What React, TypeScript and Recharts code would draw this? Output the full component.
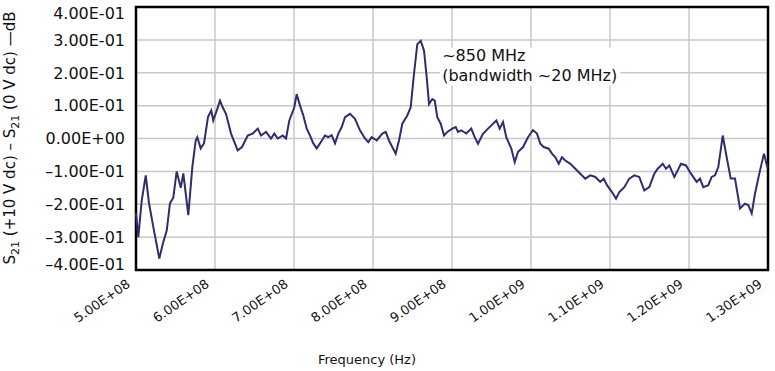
import React from 'react';
import { LineChart, Line, XAxis, YAxis, CartesianGrid, ReferenceArea } from 'recharts';

// Frequency in MHz, value in dB (difference of S21 at +10 V dc and 0 V dc)
const freqMHz = [
  500, 502.9, 507.2, 512.3, 516.5, 521.9, 529.5, 534.2, 538.9, 543, 547.2, 551.5, 556.6, 559.9, 566.2,
  571.3, 575.6, 577.6, 581.9, 586.1, 591.1, 595.3, 597.8, 602.9, 606.3, 609.7, 613.9, 620.3, 628.7,
  634.2, 641.4, 647.7, 654.1, 658.2, 664.6, 670.9, 675.1, 679.4, 685.7, 689.9, 694.1, 700.4, 703.4,
  707.6, 711.8, 716.1, 720.3, 724.4, 728.7, 732.9, 739.2, 743.4, 747.7, 751.9, 756.1, 760.4, 764.6,
  770.9, 777.2, 783.5, 789.9, 794, 798.4, 804.7, 811.8, 816.1, 820.3, 824.4, 828.7, 832.9, 837.1,
  843.4, 847.7, 851.9, 856.1, 860.4, 864.6, 868, 870.9, 875.1, 878.1, 881.4, 885.7, 889.9, 894.1,
  900.4, 904.7, 907.6, 911.8, 918.1, 924.4, 928.7, 932.9, 939.2, 945.6, 949.8, 956.1, 960.4, 964.6,
  968.7, 975.1, 979.4, 983.5, 989.9, 996.2, 1002.5, 1007.6, 1011.8, 1016.1, 1022.4, 1026.6, 1030.8,
  1035.1, 1039.2, 1043.4, 1049.8, 1056.1, 1062.4, 1068.7, 1075.1, 1081.4, 1087.7, 1092, 1096.2,
  1102.5, 1107.6, 1111.8, 1118.1, 1124.4, 1130.8, 1137.1, 1143.4, 1149.7, 1156.1, 1160.4, 1166.7,
  1170.9, 1175.1, 1181.4, 1185.7, 1189.9, 1196.2, 1202.5, 1209.7, 1213.9, 1218.1, 1224.4, 1228.7,
  1232.9, 1237.1, 1242.7, 1247.7, 1252.8, 1258.2, 1264.6, 1270.9, 1275.1, 1279.4, 1283.5, 1289.9,
  1294.9, 1299.1, 1300,
];

const deltaS21 = [
  -0.227, -0.3, -0.19, -0.112, -0.197, -0.269, -0.365, -0.318, -0.28, -0.197, -0.18, -0.1, -0.15, -0.106, -0.233,
  -0.087, -0.006, 0.004, -0.03, -0.015, 0.065, 0.085, 0.055, 0.09, 0.115, 0.095, 0.075, 0.015, -0.036,
  -0.026, 0.009, 0.015, 0.03, 0.009, 0.02, 0, 0.015, 0, 0.009, 0, 0.055, 0.095, 0.135,
  0.1, 0.07, 0.03, 0.009, -0.015, -0.03, -0.015, 0.009, 0.004, 0.01, -0.015, 0.015, 0.035, 0.065,
  0.075, 0.06, 0.025, 0, -0.011, 0.004, -0.006, 0.015, 0.02, -0.006, -0.026, -0.046, -0.006, 0.045,
  0.07, 0.095, 0.197, 0.287, 0.297, 0.267, 0.186, 0.105, 0.12, 0.115, 0.065, 0.045, 0.009, 0.02,
  0.03, 0.035, 0.02, 0.025, 0.015, 0.03, 0.004, -0.016, 0.014, 0.03, 0.04, 0.055, 0.03, 0.05,
  0.004, -0.031, -0.072, -0.041, -0.026, 0.004, 0.025, 0.015, -0.016, -0.026, -0.031, -0.046, -0.057,
  -0.077, -0.057, -0.067, -0.077, -0.092, -0.107, -0.122, -0.112, -0.117, -0.132, -0.122, -0.142,
  -0.163, -0.183, -0.163, -0.148, -0.122, -0.112, -0.117, -0.158, -0.148, -0.107, -0.092, -0.077,
  -0.092, -0.082, -0.117, -0.097, -0.077, -0.082, -0.107, -0.132, -0.122, -0.148, -0.142, -0.117,
  -0.112, -0.087, 0.009, -0.057, -0.122, -0.122, -0.213, -0.198, -0.203, -0.228, -0.168, -0.097,
  -0.046, -0.087, -0.09,
];

const xTicks = [5e8, 6e8, 7e8, 8e8, 9e8, 1e9, 1.1e9, 1.2e9, 1.3e9];
const xTickLabels = ['5.00E+08', '6.00E+08', '7.00E+08', '8.00E+08', '9.00E+08', '1.00E+09', '1.10E+09', '1.20E+09', '1.30E+09'];
const yTicks = [-0.4, -0.3, -0.2, -0.1, 0, 0.1, 0.2, 0.3, 0.4];
const yTickLabels = ['\u20134.00E-01', '\u20133.00E-01', '\u20132.00E-01', '\u20131.00E-01', '0.00E+00', '1.00E-01', '2.00E-01', '3.00E-01', '4.00E-01'];

const data = freqMHz.map((f, i) => ({ hz: f * 1e6, v: deltaS21[i] }));

const FONT = '"DejaVu Sans", sans-serif';

const XTick = (props: any) => {
  const { x, y, payload } = props;
  const idx = xTicks.indexOf(payload.value);
  const tx = x - 5;
  const ty = y + 16;
  return (
    <text x={tx} y={ty} transform={`rotate(-35 ${tx} ${ty})`} textAnchor="end" fontSize={13} fontFamily={FONT} fill="#111">
      {xTickLabels[idx]}
    </text>
  );
};

// end labels sit a little inside the frame, as in the source figure
const YTick = (props: any) => {
  const { x, y, payload } = props;
  const idx = yTicks.indexOf(payload.value);
  const shift = idx === 0 ? -6 : idx === yTicks.length - 1 ? 6 : 0;
  return (
    <text x={x} y={y + shift} dy="0.36em" textAnchor="end" fontSize={16} fontFamily={FONT} fill="#111">
      {yTickLabels[idx]}
    </text>
  );
};

const YTitle = () => (
  <text x={15} y={138} transform="rotate(-90 15 138)" textAnchor="middle" fontSize={15} fontFamily={FONT} fill="#111">
    S<tspan fontSize={11} dy={4}>21</tspan>
    <tspan dy={-4}> (+10 V dc) – S</tspan>
    <tspan fontSize={11} dy={4}>21</tspan>
    <tspan dy={-4}> (0 V dc) —dB</tspan>
  </text>
);

const XTitle = () => (
  <text x={367} y={364} textAnchor="middle" fontSize={13} fontFamily={FONT} fill="#111">
    Frequency (Hz)
  </text>
);

const Note = (props: any) => {
  const { x, y } = props.viewBox;
  return (
    <g fontFamily={FONT} fontSize={16} fill="#111">
      <text x={x + 2} y={y + 13}>~850 MHz</text>
      <text x={x + 2} y={y + 33}>(bandwidth ~20 MHz)</text>
    </g>
  );
};

export default function App() {
  return (
    <div style={{ position: 'absolute', left: 0, top: 0, background: '#fff' }}>
      <LineChart width={775} height={371} data={data} margin={{ top: 7, right: 7, bottom: 0, left: 0 }}>
        <CartesianGrid stroke="#c8c8c8" strokeWidth={1.5} />
        <XAxis
          dataKey="hz"
          type="number"
          domain={[5e8, 1.3e9]}
          ticks={xTicks}
          height={101}
          tickSize={0}
          tickMargin={0}
          axisLine={false}
          tickLine={false}
          tick={<XTick />}
          interval={0}
          label={{ content: <XTitle /> }}
        />
        <YAxis
          type="number"
          domain={[-0.4, 0.4]}
          ticks={yTicks}
          width={136}
          tickSize={0}
          tickMargin={11}
          axisLine={false}
          tickLine={false}
          interval={0}
          tick={<YTick />}
          label={{ content: <YTitle /> }}
        />
        <ReferenceArea x1={8.85e8} x2={1.113e9} y1={0.161} y2={0.276} fill="#fff" fillOpacity={1} stroke="none" label={{ content: <Note /> }} />
        <Line type="linear" dataKey="v" stroke="#2e2e6c" strokeWidth={2} dot={false} isAnimationActive={false} />
        <ReferenceArea x1={5e8} x2={1.3e9} y1={-0.4} y2={0.4} fill="none" stroke="#000" strokeWidth={2.5} ifOverflow="visible" />
      </LineChart>
    </div>
  );
}
